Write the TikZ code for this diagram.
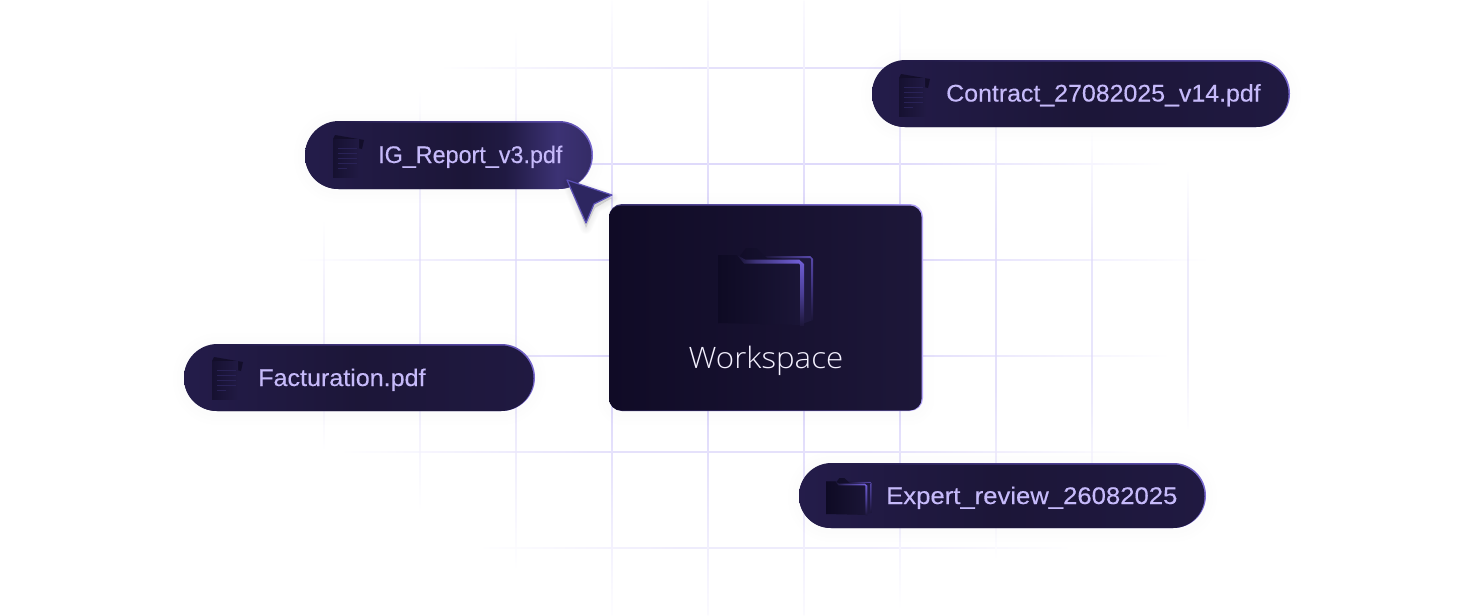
\documentclass[tikz,border=0pt]{standalone}
\usepackage{fontspec}
\setmainfont{Liberation Sans}
\newfontfamily\pillfont[FakeStretch=1.015,FakeBold=0.25]{Liberation Sans}
\newfontfamily\wsfont[UprightFont=* Light]{Open Sans}
\definecolor{gridc}{HTML}{DFDAFB}
\definecolor{cardL}{HTML}{100B26}
\definecolor{cardR}{HTML}{1D1739}
\definecolor{pillT}{HTML}{C6BAFA}
\definecolor{wsT}{HTML}{F4F1FF}
\definecolor{curF}{HTML}{2D2660}
\definecolor{curE}{HTML}{5D51B8}
\pgfdeclarehorizontalshading{gridh}{100bp}{color(0bp)=(white);color(25bp)=(white);color(42bp)=(gridc);color(58bp)=(gridc);color(75bp)=(white);color(100bp)=(white)}
\pgfdeclareverticalshading{gridv}{100bp}{color(0bp)=(white);color(25bp)=(white);color(42bp)=(gridc);color(58bp)=(gridc);color(75bp)=(white);color(100bp)=(white)}
\pgfdeclarehorizontalshading{pillplain}{100bp}{rgb(0bp)=(.140,.110,.290);rgb(25bp)=(.140,.110,.290);rgb(50bp)=(.110,.086,.220);rgb(75bp)=(.125,.098,.255);rgb(100bp)=(.125,.098,.255)}
\pgfdeclarehorizontalshading{pillhot}{100bp}{rgb(0bp)=(.140,.110,.290);rgb(25bp)=(.140,.110,.290);rgb(53bp)=(.110,.086,.220);rgb(60bp)=(.125,.100,.260);rgb(69bp)=(.235,.196,.455);rgb(75bp)=(.205,.170,.400);rgb(100bp)=(.205,.170,.400)}
\pgfdeclarehorizontalshading{rimplain}{100bp}{rgb(0bp)=(.140,.110,.290);rgb(25bp)=(.140,.110,.290);rgb(32bp)=(.140,.110,.290);rgb(50bp)=(.27,.22,.52);rgb(70bp)=(.36,.30,.68);rgb(75bp)=(.48,.42,.82);rgb(100bp)=(.48,.42,.82)}
\pgfdeclarehorizontalshading{cardfill}{100bp}{color(0bp)=(cardL);color(25bp)=(cardL);color(75bp)=(cardR);color(100bp)=(cardR)}
\pgfdeclarehorizontalshading{cardrim}{100bp}{rgb(0bp)=(.22,.19,.42);rgb(25bp)=(.22,.19,.42);rgb(50bp)=(.40,.34,.72);rgb(70bp)=(.58,.52,.90);rgb(75bp)=(.72,.66,.98);rgb(100bp)=(.72,.66,.98)}
\pgfdeclarehorizontalshading{fadeR}{100bp}{rgb(0bp)=(.09,.07,.19);rgb(25bp)=(.09,.07,.19);rgb(40bp)=(.24,.20,.47);rgb(75bp)=(.44,.37,.84);rgb(100bp)=(.44,.37,.84)}
\pgfdeclareverticalshading{fadeD}{100bp}{rgb(0bp)=(.11,.086,.22);rgb(25bp)=(.11,.086,.22);rgb(50bp)=(.30,.25,.60);rgb(75bp)=(.44,.37,.84);rgb(100bp)=(.44,.37,.84)}
\pgfdeclarehorizontalshading{fadeRb}{100bp}{rgb(0bp)=(.110,.086,.220);rgb(25bp)=(.110,.086,.220);rgb(75bp)=(.34,.28,.66);rgb(100bp)=(.34,.28,.66)}
\pgfdeclareverticalshading{fadeDb}{100bp}{rgb(0bp)=(.11,.086,.22);rgb(25bp)=(.11,.086,.22);rgb(55bp)=(.26,.21,.52);rgb(75bp)=(.34,.28,.66);rgb(100bp)=(.34,.28,.66)}
\pgfdeclarehorizontalshading{darkface}{100bp}{rgb(0bp)=(.055,.04,.14);rgb(25bp)=(.055,.04,.14);rgb(75bp)=(.105,.085,.215);rgb(100bp)=(.105,.085,.215)}
\pgfdeclarehorizontalshading{docface}{100bp}{rgb(0bp)=(.085,.065,.19);rgb(25bp)=(.085,.065,.19);rgb(75bp)=(.130,.102,.265);rgb(100bp)=(.130,.102,.265)}
\tikzset{
  x=1pt,y=-1pt,
  pilltext/.style={anchor=base west,inner sep=0pt,text=pillT,font=\pillfont\fontsize{24}{24}\selectfont},
  doclines/.style={draw=curF!75!cardR,line width=0.9pt},
}
\newcommand{\gridH}[4]{\shade[shading=gridh,opacity=#4] (#2,#1-.45) rectangle (#3,#1+.45);}
\newcommand{\gridV}[4]{\shade[shading=gridv,opacity=#4] (#1-.45,#2) rectangle (#1+.45,#3);}
\newcommand{\pill}[6]{
  \pgfmathsetmacro{\rr}{(#5-#3)/2}
  \foreach \k in {3,7,11}{\fill[black,opacity=.003,rounded corners=\rr+\k] (#2-\k,#3-\k) rectangle (#4+\k,#5+\k+3);}
  \shade[shading=rimplain,rounded corners=\rr] (#2,#3) rectangle (#4,#5);
  \shade[shading=#6,rounded corners=\rr-1] (#2,#3+1.5) rectangle (#4-1.5,#5);
}
\newcommand{\docicon}[2]{
\begin{scope}[shift={(#1,#2)}]
  \fill[cardL!80!cardR] (2,0) -- (31,5) -- (29,14) -- (2,8) -- cycle;
  \shade[shading=docface] (0,4) -- (26,4) -- (26,42) -- (0,42) -- cycle;
  \fill[cardL!80!cardR] (0,4) -- (2,0) -- (3,4) -- cycle;
  \draw[doclines] (5,13) -- (24,13) (5,18) -- (24,18) (5,23) -- (24,23) (5,28) -- (24,28);
  \draw[doclines] (5,33) -- (14,33);
\end{scope}}
\newcommand{\foldericon}[3]{
\begin{scope}[shift={(#1,#2)},scale=#3]
  \shade[shading=darkface] (0,8) -- (22,8) -- (28,0) -- (38,0) -- (47,8) -- (92,8) -- (95,11) -- (95,72) -- (0,75) -- cycle;
  \fill[cardR!85!curF] (47,8) -- (92,8) -- (95,11) -- (95,72) -- (84,76) -- (84,14) -- cycle;
  \shade[shading=darkface] (19,7) -- (27,12) -- (80,12) -- (85,17) -- (85,77) -- (0,75) -- (0,7) -- cycle;
  \shade[shading=fadeRb] (47,8) -- (92,8) -- (92,10) -- (49,10) -- cycle;
  \shade[shading=fadeDb] (92,8) -- (95,11) -- (95,72) -- (93,72) -- (93,11) -- (92,10) -- cycle;
  \shade[shading=fadeR] (19,7) -- (27,11.5) -- (81,11.5) -- (81,15.5) -- (26,15.5) -- cycle;
  \shade[shading=fadeD] (81,11.5) -- (86,16) -- (86,78) -- (82,78) -- (82,17) -- (81,15.5) -- cycle;
\end{scope}}
\begin{document}
\begin{tikzpicture}
\useasboundingbox (0,0) rectangle (1484,616);
\fill[white] (0,0) rectangle (1484,616);
% grid
\gridH{68}{440}{1180}{.8}
\gridH{164}{330}{1170}{1}
\gridH{260}{295}{1210}{1}
\gridH{356}{300}{1170}{1}
\gridH{452}{340}{1140}{.8}
\gridH{548}{480}{1070}{.5}
\gridV{324}{220}{450}{.4}
\gridV{420}{90}{510}{.6}
\gridV{516}{30}{570}{.7}
\gridV{612}{-10}{626}{1}
\gridV{708}{-30}{646}{1}
\gridV{804}{-30}{646}{1}
\gridV{900}{0}{610}{1}
\gridV{996}{60}{560}{.8}
\gridV{1092}{130}{500}{.7}
\gridV{1188}{170}{430}{.5}
% pills
\pill{contract}{872}{60}{1290}{127}{pillplain}
\pill{ig}{305}{121}{593}{189}{pillhot}
\pill{fact}{184}{344}{535}{411}{pillplain}
\pill{expert}{799}{463}{1206}{528}{pillplain}
\docicon{899}{74}
\docicon{333}{135}
\docicon{212}{357}
\foldericon{826}{478}{.48}
\node[pilltext] (tcontract) at (946,101.5) {\scalebox{1.023}[1]{Contract\_27082025\_v14.pdf}};
\node[pilltext] (tig) at (378,163) {\scalebox{.958}[1]{IG\_Report\_v3.pdf}};
\node[pilltext] (tfact) at (258,386) {\scalebox{1.03}[1]{Facturation.pdf}};
\node[pilltext] (texpert) at (886,504) {\scalebox{1.054}[1]{Expert\_review\_26082025}};
% card
\foreach \k in {3,7,11}{\fill[black,opacity=.002,rounded corners=13+\k] (609-\k,204-\k) rectangle (923+\k,411+\k+3);}
\shade[shading=cardrim,rounded corners=13] (609,204) rectangle (923,411);
\shade[shading=cardfill,rounded corners=12] (609,205.5) rectangle (921.6,410.5);
\foldericon{718}{248}{1}
\node[anchor=base,inner sep=0pt,text=wsT,font=\wsfont\fontsize{29.5}{30}\selectfont] (tws) at (766,368) {\scalebox{1.06}[1]{Workspace}};
% cursor
\foreach \k in {1,2,3,4,5,6}{\fill[black,opacity=.018,draw=black,draw opacity=.012,line join=round,line width=2*\k pt]
  (568,183) -- (612,198) -- (595,208) -- (586,228) -- cycle;}
\fill[curF,draw=curE,line width=1.2pt,line join=round] (567,180) -- (612,195) -- (594,204) -- (586,223) -- cycle;
\end{tikzpicture}
\end{document}
